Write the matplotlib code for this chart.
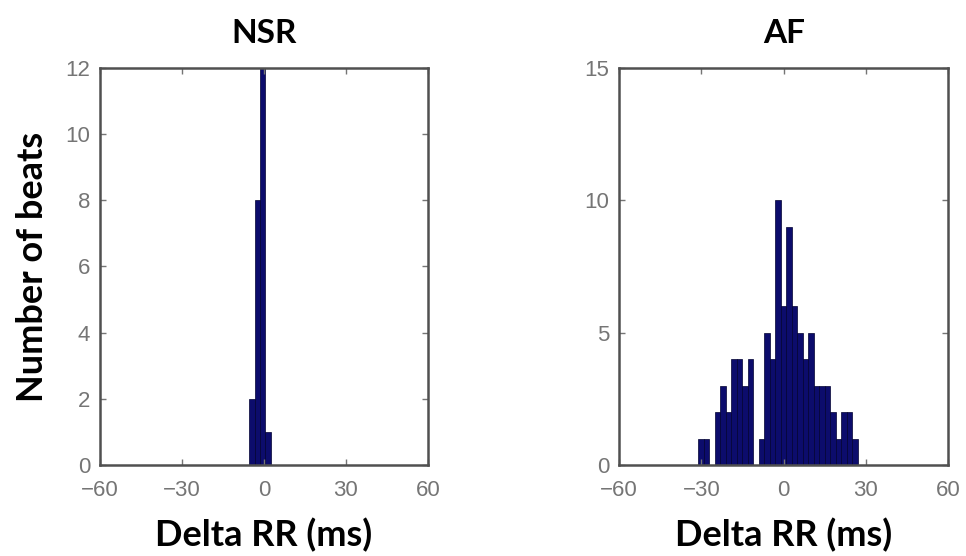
import numpy as np
import matplotlib.pyplot as plt

# NSR histogram (Delta RR, ms)
nsr_edges = [-5.3, -3.3, -1.3, 0.5, 2.4]
nsr_counts = [2, 8, 12, 1]

# AF histogram: 29 bins of ~2 ms starting at -31.2 ms
af_start = -31.2
af_width = 2.01
af_counts = [1, 1, 0, 2, 3, 2, 4, 4, 3, 4, 0, 1, 5, 4, 10, 6, 9, 6, 5, 4,
             5, 3, 3, 3, 2, 1, 2, 2, 1]

x_ticks = [-60, -30, 0, 30, 60]
nsr_yticks = [0, 2, 4, 6, 8, 10, 12]
af_yticks = [0, 5, 10, 15]

bar_color = '#0c0c6c'
tick_color = '#757575'
spine_color = '#505050'
label_font = 'Lato'

fig = plt.figure(figsize=(9.66, 5.56), dpi=100)
ax1 = fig.add_axes([0.1035, 0.1637, 0.3395, 0.714])
ax2 = fig.add_axes([0.641, 0.1637, 0.3406, 0.714])


def style_axes(ax, yticks, title):
    ax.set_xlim(-60, 60)
    ax.set_ylim(yticks[0], yticks[-1])
    ax.set_xticks(x_ticks)
    ax.set_yticks(yticks)
    ax.tick_params(direction='in', length=4, width=1, color=tick_color,
                   labelcolor=tick_color, labelsize=16, top=True, right=True)
    ax.tick_params(axis='x', pad=11)
    ax.tick_params(axis='y', pad=7)
    for lab in ax.get_xticklabels() + ax.get_yticklabels():
        lab.set_family('Liberation Sans')
    for sp in ax.spines.values():
        sp.set_color(spine_color)
        sp.set_linewidth(1.8)
    ax.set_title(title, fontsize=24, fontweight='bold', family=label_font, pad=18)
    ax.set_xlabel('Delta RR (ms)', fontsize=26, fontweight='bold',
                  family=label_font, labelpad=12)


# NSR
nsr_left = nsr_edges[:-1]
nsr_w = np.diff(nsr_edges)
ax1.bar(nsr_left, nsr_counts, width=nsr_w, align='edge', color=bar_color,
        edgecolor='#000030', linewidth=0.5)
style_axes(ax1, nsr_yticks, 'NSR')
ax1.set_ylabel('Number of beats', fontsize=26, fontweight='bold',
               family=label_font, labelpad=12)

# AF
af_left = af_start + af_width * np.arange(len(af_counts))
ax2.bar(af_left, af_counts, width=af_width, align='edge', color=bar_color,
        edgecolor='#000030', linewidth=0.5)
style_axes(ax2, af_yticks, 'AF')

fig.savefig('out.png', dpi=100)
